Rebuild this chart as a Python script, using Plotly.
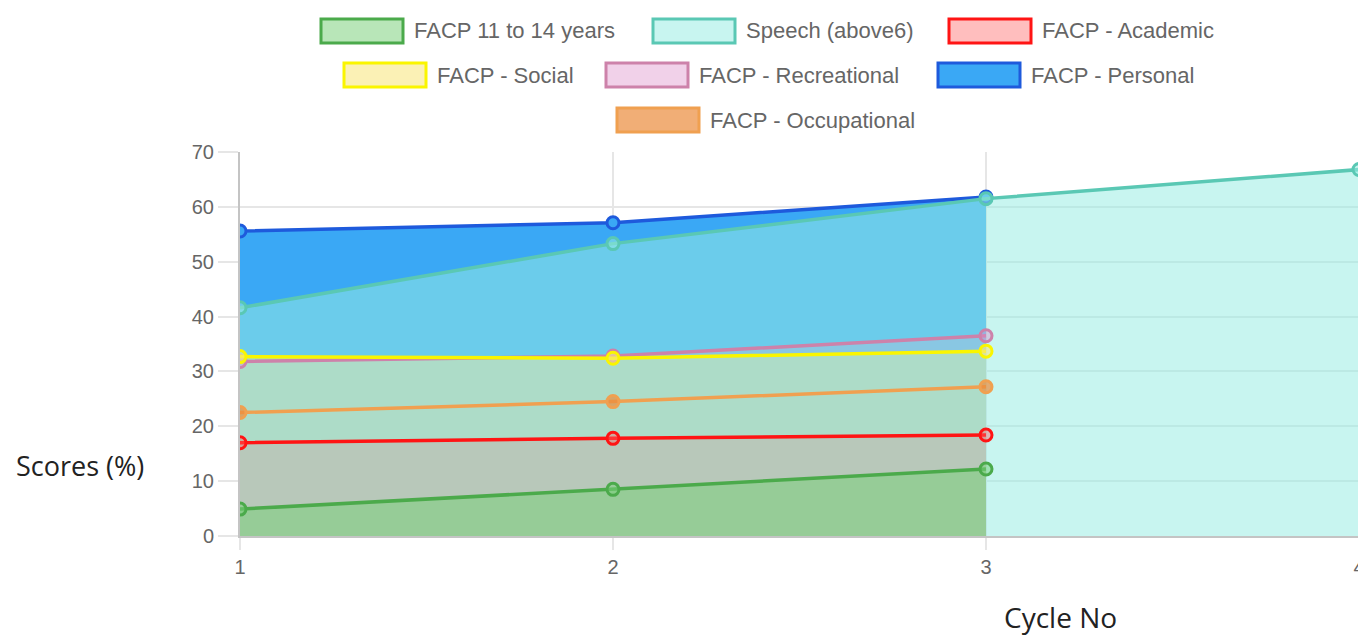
import plotly.graph_objects as go

# ---------------- data ----------------
cycles = [1, 2, 3, 4]
series_names = [
    "FACP 11 to 14 years",
    "Speech (above6)",
    "FACP - Academic",
    "FACP - Social",
    "FACP - Recreational",
    "FACP - Personal",
    "FACP - Occupational",
]
facp_11_14 = [4.9, 8.5, 12.2]
speech = [41.6, 53.3, 61.5, 66.8]
academic = [17.0, 17.8, 18.4]
social = [32.7, 32.4, 33.7]
recreational = [31.8, 32.8, 36.5]
personal = [55.6, 57.1, 61.8]
occupational = [22.5, 24.5, 27.2]
series_values = [facp_11_14, speech, academic, social, recreational, personal, occupational]
y_ticks = [0, 10, 20, 30, 40, 50, 60, 70]
x_ticks = [1, 2, 3, 4]

# ---------------- style ----------------
fill_colors = [
    "rgba(121,207,121,0.53)",
    "rgba(151,236,226,0.53)",
    "rgba(255,100,100,0.42)",
    "rgba(248,232,132,0.6)",
    "rgba(220,140,200,0.4)",
    "rgba(58,168,245,1)",
    "rgba(235,140,60,0.7)",
]
line_colors = [
    "rgb(75,170,75)",
    "rgb(90,200,180)",
    "rgb(255,20,20)",
    "rgb(250,245,0)",
    "rgb(205,130,170)",
    "rgb(30,90,220)",
    "rgb(240,160,80)",
]

OFF = 8  # page body margin
W, H = 1366 - OFF, 636 - OFF
ML, MT = 240 - OFF, 152 - OFF
PW = 1359 - 240
PH = 536 - 152
MR = W - ML - PW
MB = H - MT - PH

fig = go.Figure()
order = list(range(len(series_names)))[::-1]  # last dataset drawn first

# fills first
for i in order:
    vals = series_values[i]
    fig.add_trace(go.Scatter(
        x=cycles[:len(vals)], y=vals, mode="none", fill="tozeroy",
        fillcolor=fill_colors[i], showlegend=False, hoverinfo="skip",
    ))
# lines + markers on top
for i in order:
    vals = series_values[i]
    fig.add_trace(go.Scatter(
        x=cycles[:len(vals)], y=vals, mode="lines+markers", name=series_names[i],
        line=dict(color=line_colors[i], width=3.5),
        marker=dict(size=12, color=fill_colors[i], line=dict(color=line_colors[i], width=3)),
        showlegend=False,
    ))

# ---------------- manual legend (Chart.js style boxes) ----------------
legend_rows = [[0, 1, 2], [3, 4, 5], [6]]
legend_row_y_px = [31, 75, 120]          # screen pixels
legend_box_left_px = [321, 653, 949, 344, 606, 938, 617]
box_w, box_h = 82, 24

def px_x(p):
    return (p - 240) / PW

def px_y(p):
    return (536 - p) / PH

shapes = []
annotations = []
for r, row in enumerate(legend_rows):
    yc = legend_row_y_px[r]
    for i in row:
        x0 = legend_box_left_px[i]
        shapes.append(dict(
            type="rect", xref="paper", yref="paper",
            x0=px_x(x0), x1=px_x(x0 + box_w),
            y0=px_y(yc + box_h / 2), y1=px_y(yc - box_h / 2),
            fillcolor=fill_colors[i], line=dict(color=line_colors[i], width=3),
        ))
        annotations.append(dict(
            text=series_names[i], xref="paper", yref="paper",
            x=px_x(x0 + box_w + 9), y=px_y(yc), xanchor="left", yanchor="middle",
            showarrow=False, font=dict(family="Liberation Sans, Arial", size=22, color="#666666"),
        ))

annotations.append(dict(
    text="Scores (%)", xref="paper", yref="paper", x=px_x(80), y=px_y(465),
    xanchor="center", yanchor="middle", showarrow=False,
    font=dict(family="Open Sans", size=27, color="#222222"),
))
annotations.append(dict(
    text="Cycle No", xref="paper", yref="paper", x=px_x(1060), y=px_y(638),
    xanchor="center", yanchor="bottom", showarrow=False,
    font=dict(family="Open Sans", size=28, color="#222222"),
))

tick_font = dict(family="Liberation Sans, Arial", size=20, color="#666666")

fig.update_layout(
    width=W, height=H,
    margin=dict(l=ML, r=MR, t=MT, b=MB, pad=0, autoexpand=False),
    paper_bgcolor="white", plot_bgcolor="white",
    showlegend=False,
    shapes=shapes, annotations=annotations,
    xaxis=dict(
        range=[1, 4], tickvals=x_ticks, ticktext=[str(v) for v in x_ticks],
        showgrid=True, gridcolor="#e6e6e6", gridwidth=1.5,
        showline=True, linecolor="#c4c4c4", linewidth=2,
        ticks="outside", ticklen=12, tickcolor="#e6e6e6", tickwidth=1.5,
        tickfont=tick_font, zeroline=False, fixedrange=True, automargin=False,
    ),
    yaxis=dict(
        range=[0, 70], tickvals=y_ticks,
        showgrid=True, gridcolor="#e6e6e6", gridwidth=1.5,
        showline=True, linecolor="#c4c4c4", linewidth=2,
        ticks="outside", ticklen=20, tickcolor="#e6e6e6", tickwidth=1.5,
        tickfont=tick_font, zeroline=False, fixedrange=True, automargin=False,
    ),
)

fig.write_html("out.html")
